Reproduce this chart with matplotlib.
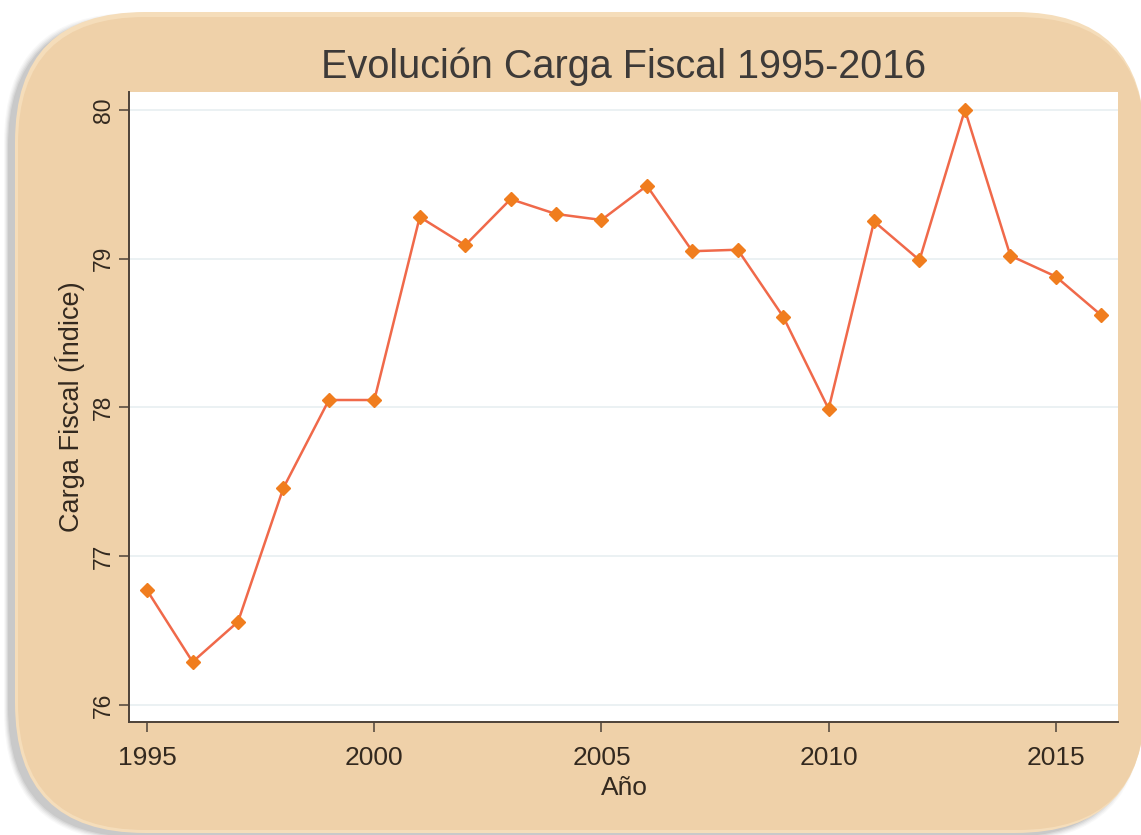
import matplotlib
matplotlib.use("Agg")
import matplotlib.pyplot as plt
from matplotlib.patches import FancyBboxPatch

plt.rcParams['font.family'] = ['Liberation Sans', 'DejaVu Sans']

# Annual fiscal burden index
years = [1995, 1996, 1997, 1998, 1999, 2000, 2001, 2002, 2003, 2004, 2005,
         2006, 2007, 2008, 2009, 2010, 2011, 2012, 2013, 2014, 2015, 2016]
carga = [76.77, 76.29, 76.56, 77.46, 78.05, 78.05, 79.28, 79.09, 79.40, 79.30,
         79.26, 79.49, 79.05, 79.06, 78.61, 77.99, 79.25, 78.99, 80.00, 79.02,
         78.88, 78.62]
x_ticks = [1995, 2000, 2005, 2010, 2015]
y_ticks = [76, 77, 78, 79, 80]

title = "Evolución Carga Fiscal 1995-2016"
x_label = "Año"
y_label = "Carga Fiscal (Índice)"

W, H = 1141, 835
fig = plt.figure(figsize=(W / 100, H / 100), dpi=100)
fig.patch.set_facecolor("white")

# Background layer in pixel units for the rounded frame
bg = fig.add_axes([0, 0, 1, 1])
bg.set_xlim(0, W)
bg.set_ylim(0, H)
bg.axis("off")

# soft shadow towards the left and bottom
for i, a in enumerate([0.04, 0.05, 0.07, 0.09, 0.11]):
    off = 4 - i
    bg.add_patch(FancyBboxPatch((15 - 7 - off, 2 - 4 - off), 1130 + 2 * off, 820 + 2 * off,
                                boxstyle="round,pad=0,rounding_size=130",
                                facecolor="#5a5a5a", edgecolor="none", alpha=a))
# frame
bg.add_patch(FancyBboxPatch((15, 2), 1130, 821,
                            boxstyle="round,pad=0,rounding_size=130",
                            facecolor="#F5DDBA", edgecolor="none"))
bg.add_patch(FancyBboxPatch((18, 5), 1127, 813,
                            boxstyle="round,pad=0,rounding_size=127",
                            facecolor="#EFD1A9", edgecolor="none"))

# Plot region
ax = fig.add_axes([129 / W, 1 - 722 / H, (1118 - 129) / W, (722 - 92) / H])
ax.set_facecolor("white")
ax.plot(years, carga, color="#F0694A", linewidth=1.8, zorder=3)
ax.plot(years, carga, linestyle="none", marker="D", markersize=7.5,
        color="#F07D1E", markeredgecolor="#F07D1E", zorder=4)

ax.set_xlim(1994.6, 2016.37)
ax.set_ylim(75.886, 80.12)
ax.set_xticks(x_ticks)
ax.set_yticks(y_ticks)
ax.grid(axis="y", color="#E8EFF1", linewidth=1.2)
ax.set_axisbelow(True)

for s in ["top", "right"]:
    ax.spines[s].set_visible(False)
for s in ["left", "bottom"]:
    ax.spines[s].set_color("#4d4238")
    ax.spines[s].set_linewidth(1.4)

ax.tick_params(axis="both", direction="out", length=7, width=1.1,
               color="#4d4238", labelcolor="#33291f")
ax.tick_params(axis="x", pad=10, labelsize=19)
ax.tick_params(axis="y", pad=3, labelsize=16.5)
for lab in ax.get_yticklabels():
    lab.set_rotation(90)
    lab.set_va("center")

ax.set_xlabel(x_label, fontsize=19, color="#33291f", va="center")
ax.xaxis.set_label_coords((624 - 129) / (1118 - 129), (722 - 788) / (722 - 92))
ax.set_ylabel(y_label, fontsize=19.5, color="#33291f", va="center")
ax.yaxis.set_label_coords((70 - 129) / (1118 - 129), 0.5)

fig.text(624 / W, 1 - 67 / H, title, ha="center", va="center",
         fontsize=28.5, color="#3d3a38")

fig.savefig("out.png", dpi=100, facecolor="white")
